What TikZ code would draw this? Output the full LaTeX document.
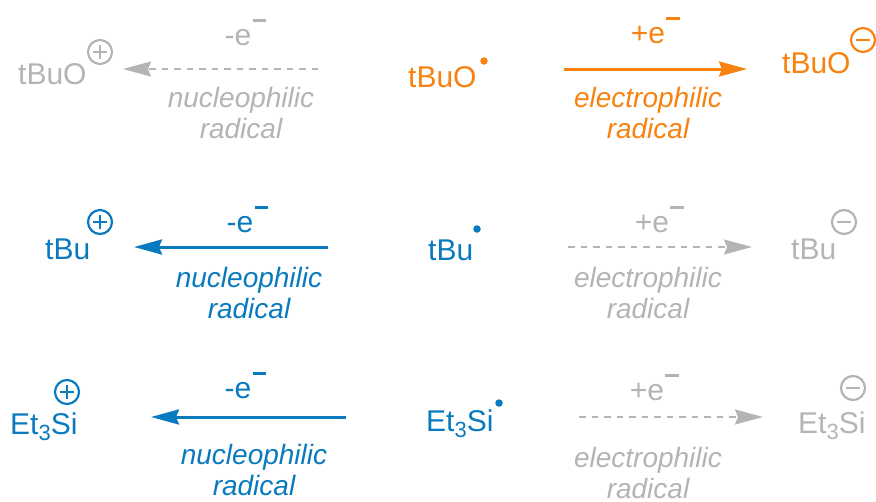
\documentclass[tikz,border=0pt]{standalone}
\usepackage{fontspec}
\setmainfont{Liberation Sans}
\usetikzlibrary{arrows.meta}
\definecolor{cOr}{RGB}{247,130,16}
\definecolor{cBl}{RGB}{10,122,190}
\definecolor{cGr}{RGB}{180,180,180}
\newcommand{\ebar}{e\rlap{\kern0.04em\raisebox{0.76em}{\rule{0.46em}{0.1em}}}}
\newcommand{\subth}{\raisebox{-0.23em}{\fontsize{22}{22}\selectfont 3}}
\begin{document}
\begin{tikzpicture}[x=1pt,y=-1pt,
 mol/.style={inner sep=0pt, anchor=base west, font=\fontsize{30}{36}\selectfont},
 elab/.style={inner sep=0pt, anchor=base, font=\fontsize{30}{36}\selectfont},
 rlab/.style={inner sep=0pt, anchor=base, align=center, font=\fontsize{28}{31}\selectfont\itshape},
 chg/.style={circle, draw, line width=2.2pt, minimum size=24pt, inner sep=0pt},
 sgn/.style={line width=2.8pt},
 rad/.style={circle, fill, minimum size=7.5pt, inner sep=0pt},
 solidarr/.style={line width=3pt, -{Stealth[length=28pt,width=15pt,inset=3pt]}},
 dasharr/.style={line width=1.9pt, dash pattern=on 6.5pt off 6pt, -{Stealth[length=28pt,width=15pt,inset=3pt]}},
]
\useasboundingbox (0,0) rectangle (876,501);

% ---------- Row 1 ----------
\node[mol, text=cGr] (m1a) at (18,84) {tBuO};
\node[chg, draw=cGr] (c1a) at (100,52) {};
\draw[sgn, cGr] (c1a.center) ++(-7,0) -- ++(14,0) (c1a.center) ++(0,-7) -- ++(0,14);
\coordinate (a1s) at (318,69);
\coordinate (a1e) at (123,69);
\draw[dasharr, cGr] (a1s) -- (a1e);
\node[elab, text=cGr] (e1a) at (238,45) {-\ebar};
\node[rlab, text=cGr] (l1a) at (241,138) {nucleophilic\\radical};

\node[mol, text=cOr] (m1b) at (408,87) {tBuO};
\node[rad, fill=cOr] (d1b) at (484,61) {};
\coordinate (b1s) at (564,69);
\coordinate (b1e) at (747,69);
\draw[solidarr, cOr] (b1s) -- (b1e);
\node[elab, text=cOr] (e1b) at (648,43) {+\ebar};
\node[rlab, text=cOr] (l1b) at (648,138) {electrophilic\\radical};

\node[mol, text=cOr] (m1c) at (782,73) {tBuO};
\node[chg, draw=cOr] (c1c) at (863,40) {};
\draw[sgn, cOr] (c1c.center) ++(-7,0) -- ++(14,0);

% ---------- Row 2 ----------
\node[mol, text=cBl] (m2a) at (45,259) {tBu};
\node[chg, draw=cBl] (c2a) at (100,222) {};
\draw[sgn, cBl] (c2a.center) ++(-7,0) -- ++(14,0) (c2a.center) ++(0,-7) -- ++(0,14);
\coordinate (a2s) at (328,247);
\coordinate (a2e) at (134,247);
\draw[solidarr, cBl] (a2s) -- (a2e);
\node[elab, text=cBl] (e2a) at (240,232) {-\ebar};
\node[rlab, text=cBl] (l2a) at (249,318) {nucleophilic\\radical};

\node[mol, text=cBl] (m2b) at (428,260) {tBu};
\node[rad, fill=cBl] (d2b) at (477,229) {};
\coordinate (b2s) at (568,247);
\coordinate (b2e) at (752,247);
\draw[dasharr, cGr] (b2s) -- (b2e);
\node[elab, text=cGr] (e2b) at (652,232) {+\ebar};
\node[rlab, text=cGr] (l2b) at (648,318) {electrophilic\\radical};

\node[mol, text=cGr] (m2c) at (791,259) {tBu};
\node[chg, draw=cGr] (c2c) at (844,222) {};
\draw[sgn, cGr] (c2c.center) ++(-7,0) -- ++(14,0);

% ---------- Row 3 ----------
\node[mol, text=cBl] (m3a) at (10,434) {Et\subth Si};
\node[chg, draw=cBl] (c3a) at (67,392) {};
\draw[sgn, cBl] (c3a.center) ++(-7,0) -- ++(14,0) (c3a.center) ++(0,-7) -- ++(0,14);
\coordinate (a3s) at (346,417);
\coordinate (a3e) at (151,417);
\draw[solidarr, cBl] (a3s) -- (a3e);
\node[elab, text=cBl] (e3a) at (238,398) {-\ebar};
\node[rlab, text=cBl] (l3a) at (254,495) {nucleophilic\\radical};

\node[mol, text=cBl] (m3b) at (426,431) {Et\subth Si};
\node[rad, fill=cBl] (d3b) at (499,403) {};
\coordinate (b3s) at (579,417);
\coordinate (b3e) at (763,417);
\draw[dasharr, cGr] (b3s) -- (b3e);
\node[elab, text=cGr] (e3b) at (647,400) {+\ebar};
\node[rlab, text=cGr] (l3b) at (648,498) {electrophilic\\radical};

\node[mol, text=cGr] (m3c) at (798,433) {Et\subth Si};
\node[chg, draw=cGr] (c3c) at (853,388) {};
\draw[sgn, cGr] (c3c.center) ++(-7,0) -- ++(14,0);
\end{tikzpicture}
\end{document}
